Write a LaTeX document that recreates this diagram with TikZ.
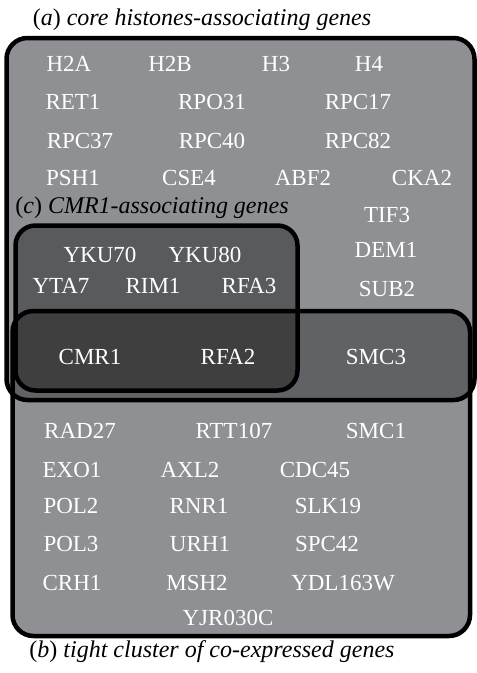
\documentclass[tikz,border=0pt]{standalone}
\usepackage{fontspec}
\setmainfont{Liberation Serif}
\begin{document}
\begin{tikzpicture}[x=1pt,y=-1pt,
  gene/.style={text=white, font=\fontsize{23}{25}\selectfont, anchor=base, inner sep=0pt},
  captext/.style={text=black, font=\fontsize{24}{26}\selectfont, anchor=base, inner sep=0pt},
  setbox/.style={draw=black, line width=4.5pt, rounded corners=21pt}]
\definecolor{gone}{RGB}{143,144,148}
\definecolor{gab}{RGB}{97,98,102}
\definecolor{gac}{RGB}{89,90,94}
\definecolor{gabc}{RGB}{63,63,64}
\useasboundingbox (0,0) rectangle (477,673);
% fills
\fill[gone, rounded corners=21pt] (6.5,38) rectangle (474.5,400);
\fill[gone, rounded corners=21pt] (12.5,311) rectangle (470,636);
\begin{scope}
  \clip[rounded corners=21pt] (6.5,38) rectangle (474.5,400);
  \fill[gab, rounded corners=21pt] (12.5,311) rectangle (470,636);
\end{scope}
\fill[gac, rounded corners=20pt] (15.5,225.5) rectangle (297.5,390.5);
\begin{scope}
  \clip[rounded corners=21pt] (12.5,311) rectangle (470,636);
  \fill[gabc, rounded corners=20pt] (15.5,225.5) rectangle (297.5,390.5);
\end{scope}
% outlines
\draw[setbox] (6.5,38) rectangle (474.5,400);
\draw[setbox] (12.5,311) rectangle (470,636);
\draw[setbox, rounded corners=20pt] (15.5,225.5) rectangle (297.5,390.5);
% captions
\node[captext] (capa) at (202,25) {(\textit{a}) \textit{core histones-associating genes}};
\node[captext] (capc) at (152,213) {(\textit{c}) \textit{CMR1-associating genes}};
\node[captext] (capb) at (212,657) {(\textit{b}) \textit{tight cluster of co-expressed genes}};
% set a only
\node[gene] (H2A) at (69,71) {H2A};
\node[gene] (H2B) at (170,71) {H2B};
\node[gene] (H3) at (276,71) {H3};
\node[gene] (H4) at (369,71) {H4};
\node[gene] (RET1) at (73,109) {RET1};
\node[gene] (RPO31) at (212,109) {RPO31};
\node[gene] (RPC17) at (358,109) {RPC17};
\node[gene] (RPC37) at (80,148) {RPC37};
\node[gene] (RPC40) at (212,148) {RPC40};
\node[gene] (RPC82) at (358,148) {RPC82};
\node[gene] (PSH1) at (73,185) {PSH1};
\node[gene] (CSE4) at (189,185) {CSE4};
\node[gene] (ABF2) at (303,185) {ABF2};
\node[gene] (CKA2) at (422,185) {CKA2};
\node[gene] (TIF3) at (387,222) {TIF3};
\node[gene] (DEM1) at (386,257) {DEM1};
\node[gene] (SUB2) at (387,296) {SUB2};
% a and c
\node[gene] (YKU70) at (100,262) {YKU70};
\node[gene] (YKU80) at (205,262) {YKU80};
\node[gene] (YTA7) at (61,293) {YTA7};
\node[gene] (RIM1) at (153,293) {RIM1};
\node[gene] (RFA3) at (249,293) {RFA3};
% a, b, c
\node[gene] (CMR1) at (90,364) {CMR1};
\node[gene] (RFA2) at (228,364) {RFA2};
% a and b
\node[gene] (SMC3) at (376,364) {SMC3};
% b only
\node[gene] (RAD27) at (80,438) {RAD27};
\node[gene] (RTT107) at (234,438) {RTT107};
\node[gene] (SMC1) at (376,438) {SMC1};
\node[gene] (EXO1) at (72,477) {EXO1};
\node[gene] (AXL2) at (190,477) {AXL2};
\node[gene] (CDC45) at (315,477) {CDC45};
\node[gene] (POL2) at (71,513) {POL2};
\node[gene] (RNR1) at (199,513) {RNR1};
\node[gene] (SLK19) at (328,513) {SLK19};
\node[gene] (POL3) at (71,551) {POL3};
\node[gene] (URH1) at (200,551) {URH1};
\node[gene] (SPC42) at (327,551) {SPC42};
\node[gene] (CRH1) at (72,590) {CRH1};
\node[gene] (MSH2) at (197,590) {MSH2};
\node[gene] (YDL163W) at (343,590) {YDL163W};
\node[gene] (YJR030C) at (228,625) {YJR030C};
\end{tikzpicture}
\end{document}
